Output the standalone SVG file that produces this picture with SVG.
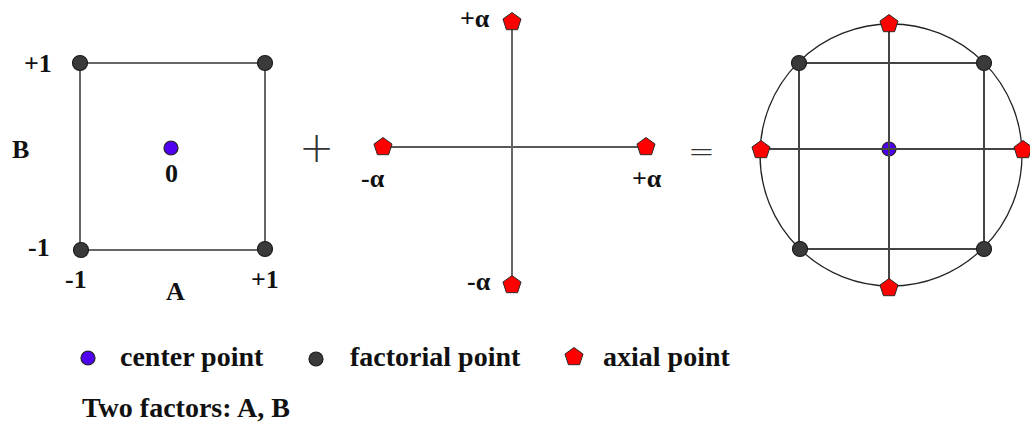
<svg xmlns="http://www.w3.org/2000/svg" width="1030" height="424" viewBox="0 0 1030 424">
<style>
.lbl{font-family:"Liberation Serif","Times New Roman",serif;font-weight:bold;font-size:26px;fill:#111}
.leg{font-family:"Liberation Serif","Times New Roman",serif;font-weight:bold;font-size:28px;fill:#111}
.op{font-family:"DejaVu Sans",sans-serif;font-weight:200;fill:#333}
.fac{fill:#3a3a3a;stroke:#1a1a1a;stroke-width:1.2}
.cen{fill:#5000f0;stroke:#222;stroke-width:1.2}
.axi{fill:#ff0000;stroke:#2a2a2a;stroke-width:1}
.gl{stroke:#666;stroke-width:2;fill:none}
.bl{stroke:#222;stroke-width:1.3;fill:none}
.dl{stroke:#444;stroke-width:2;fill:none}
</style>
<defs>
<polygon id="pent" points="0,-9.5 9.04,-2.94 5.58,7.69 -5.58,7.69 -9.04,-2.94"/>
</defs>
<g id="connectors">
<rect x="80" y="63" width="185" height="187" class="gl"/>
<line x1="383" y1="147" x2="646" y2="147" class="bl"/>
<line x1="512" y1="22" x2="512" y2="285" class="gl" stroke="#777"/>
<circle cx="891" cy="155" r="131" class="bl"/>
<rect x="799" y="63" width="185" height="186" class="dl"/>
</g>
<g id="factorial-square">
<circle cx="80" cy="63" r="7.5" class="fac"/>
<circle cx="265" cy="63" r="7.5" class="fac"/>
<circle cx="81" cy="250" r="7.5" class="fac"/>
<circle cx="265" cy="249" r="7.5" class="fac"/>
<circle cx="171" cy="148" r="7" class="cen"/>
<text x="24" y="72" class="lbl">+1</text>
<text x="12" y="158" class="lbl">B</text>
<text x="165" y="182" class="lbl">0</text>
<text x="28" y="256" class="lbl">-1</text>
<text x="65" y="288" class="lbl">-1</text>
<text x="251" y="288" class="lbl">+1</text>
<text x="166" y="300" class="lbl">A</text>
</g>
<g id="plus-op"><text x="299" y="162" class="op" font-size="42">+</text></g>
<g id="axial-cross">
<use href="#pent" x="383" y="147" class="axi"/>
<use href="#pent" x="646" y="147" class="axi"/>
<use href="#pent" x="512" y="22" class="axi"/>
<use href="#pent" x="512" y="285" class="axi"/>
<text x="460" y="27" class="lbl">+α</text>
<text x="361" y="187" class="lbl">-α</text>
<text x="632" y="187" class="lbl">+α</text>
<text x="467" y="290" class="lbl">-α</text>
</g>
<g id="equals-op"><text x="688" y="162" class="op" font-size="32">=</text></g>
<g id="ccd">
<circle cx="889" cy="149" r="7" class="cen"/>
<line x1="761" y1="149" x2="1022" y2="149" class="dl" stroke="#555"/>
<line x1="889" y1="24" x2="889" y2="287" class="dl" stroke="#555"/>
<circle cx="799" cy="63" r="7.5" class="fac"/>
<circle cx="984" cy="63" r="7.5" class="fac"/>
<circle cx="800" cy="249" r="7.5" class="fac"/>
<circle cx="984" cy="249" r="7.5" class="fac"/>
<use href="#pent" x="889" y="24" class="axi"/>
<use href="#pent" x="889" y="288" class="axi"/>
<use href="#pent" x="761" y="150" class="axi"/>
<use href="#pent" x="1023" y="150" class="axi"/>
</g>
<g id="legend">
<circle cx="88" cy="358" r="7" class="cen"/>
<text x="120" y="366" class="leg">center point</text>
<circle cx="316" cy="359" r="7" class="fac"/>
<text x="350" y="366" class="leg">factorial point</text>
<use href="#pent" x="574" y="357" class="axi"/>
<text x="603" y="366" class="leg">axial point</text>
<text x="82" y="417" class="leg">Two factors: A, B</text>
</g>
</svg>
